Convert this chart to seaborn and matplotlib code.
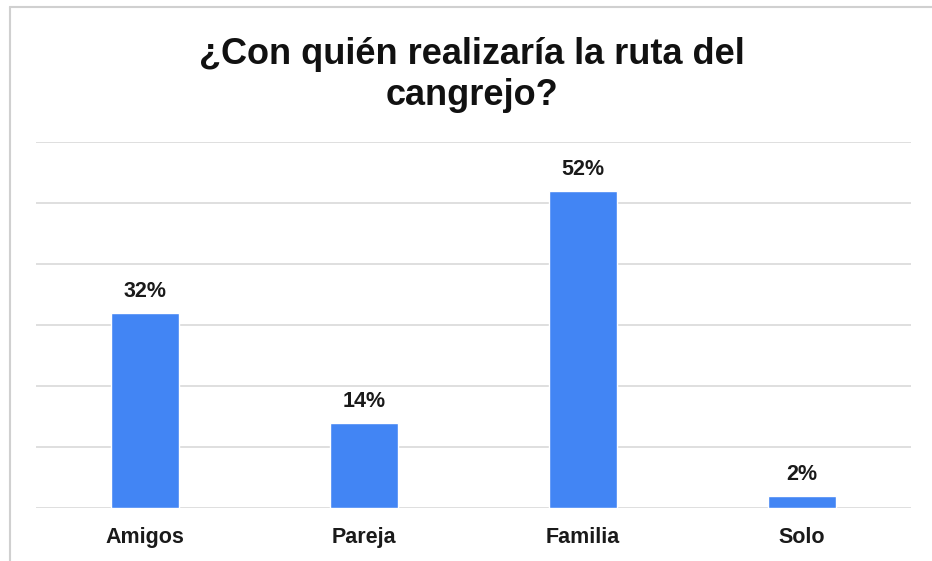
import matplotlib
matplotlib.use("Agg")
import matplotlib.pyplot as plt
import seaborn as sns
import pandas as pd
from matplotlib.lines import Line2D

categorias = ["Amigos", "Pareja", "Familia", "Solo"]
porcentajes = [32, 14, 52, 2]
etiquetas = ["32%", "14%", "52%", "2%"]

sns.set_style("white")
plt.rcParams["font.family"] = ["Liberation Sans", "DejaVu Sans"]

df = pd.DataFrame({"cat": categorias, "pct": porcentajes})

fig = plt.figure(figsize=(9.32, 5.61), dpi=100)
ax = fig.add_axes([36 / 932, 1 - 508 / 561, 875 / 932, (508 - 142) / 561])

sns.barplot(data=df, x="cat", y="pct", color="#4285F4", saturation=1,
            width=0.31, ax=ax, zorder=3)

for i, (v, lab) in enumerate(zip(porcentajes, etiquetas)):
    ax.annotate(lab, (i, v), xytext=(0, 7.5), textcoords="offset points",
                ha="center", va="bottom", fontsize=15.5, fontweight="bold",
                color="#1a1a1a")

ax.set_ylim(0, 60)
ax.set_xlim(-0.5, 3.5)
ax.set_yticks(range(0, 61, 10))
ax.yaxis.grid(True, color="#d9d9d9", linewidth=1.2, zorder=0)
ax.tick_params(axis="y", length=0, labelleft=False)
ax.tick_params(axis="x", length=0, pad=14)
for t in ax.get_xticklabels():
    t.set_fontweight("bold")
    t.set_fontsize(15.5)
    t.set_color("#1a1a1a")
ax.set_xlabel("")
ax.set_ylabel("")
for s in ax.spines.values():
    s.set_visible(False)

fig.text(0.506, 1 - 75 / 561, "¿Con quién realizaría la ruta del\ncangrejo?",
         ha="center", va="center", fontsize=26, fontweight="bold",
         color="#111111", linespacing=1.25)

# marco gris de la imagen
fig.add_artist(Line2D([10 / 932, 10 / 932], [0, 1 - 7 / 561],
                      color="#d0d0d0", linewidth=1.5, transform=fig.transFigure))
fig.add_artist(Line2D([10 / 932, 1], [1 - 7 / 561, 1 - 7 / 561],
                      color="#d0d0d0", linewidth=1.5, transform=fig.transFigure))

fig.savefig("out.png", dpi=100)
